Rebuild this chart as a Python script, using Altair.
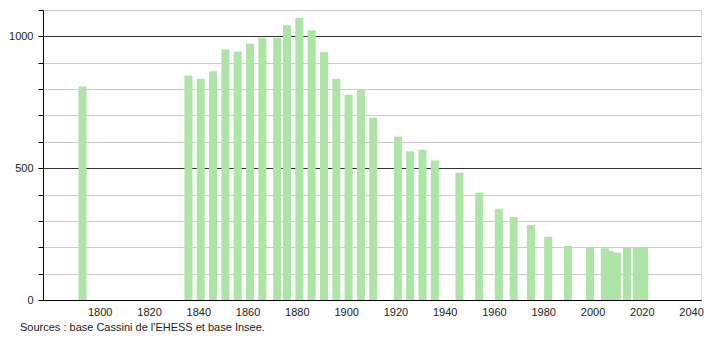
import altair as alt
import pandas as pd

years = [1793, 1836, 1841, 1846, 1851, 1856, 1861, 1866, 1872, 1876, 1881, 1886,
         1891, 1896, 1901, 1906, 1911, 1921, 1926, 1931, 1936, 1946, 1954, 1962,
         1968, 1975, 1982, 1990, 1999, 2005, 2007, 2010, 2014, 2018, 2021]
population = [810, 852, 839, 868, 950, 943, 972, 995, 995, 1042, 1071, 1023,
              940, 839, 779, 798, 691, 620, 564, 570, 529, 483, 407, 346,
              315, 285, 240, 205, 200, 196, 186, 180, 198, 199, 199]
y_ticks = [0, 100, 200, 300, 400, 500, 600, 700, 800, 900, 1000, 1100]
x_ticks = [1800, 1820, 1840, 1860, 1880, 1900, 1920, 1940, 1960, 1980, 2000, 2020, 2040]
source_text = ["Sources : base Cassini de l'EHESS et base Insee."]

df = pd.DataFrame({"year": years, "pop": population})
FONT = "Liberation Sans"

bars = alt.Chart(df).mark_bar(width=8, color="#ace5a6").encode(
    x=alt.X("year:Q",
            scale=alt.Scale(domain=[1779, 2042], nice=False, zero=False),
            axis=alt.Axis(values=x_ticks, title=None, grid=False, ticks=False,
                          domainColor="#000", labelColor="#222", labelFont=FONT,
                          labelFontSize=11, labelPadding=6, format="d",
                          labelFlush=False)),
    y=alt.Y("pop:Q",
            scale=alt.Scale(domain=[0, 1100], nice=False),
            axis=alt.Axis(values=y_ticks, title=None, grid=True,
                          gridColor={"condition": {"test": "datum.value % 500 === 0", "value": "#333"},
                                     "value": "#cccccc"},
                          gridWidth=1, format="d",
                          tickSize=5, tickColor="#000", domainColor="#000",
                          labelColor="#222", labelFont=FONT, labelFontSize=11,
                          labelPadding=5,
                          labelExpr="datum.value % 500 === 0 ? datum.label : ''")),
)

src = alt.Chart(pd.DataFrame({"t": source_text})).mark_text(
    align="left", baseline="middle", font=FONT, fontSize=11, color="#222"
).encode(
    text="t:N",
    x=alt.value(-23),
    y=alt.value(318),
)

chart = alt.layer(bars, src).properties(
    width=658, height=290,
    autosize=alt.AutoSizeParams(type="none"),
    padding={"left": 43, "top": 10, "right": 9, "bottom": 40},
).configure_view(stroke=None).configure(background="white")

chart.save("out.html", embed_options={"renderer": "svg", "actions": False})
